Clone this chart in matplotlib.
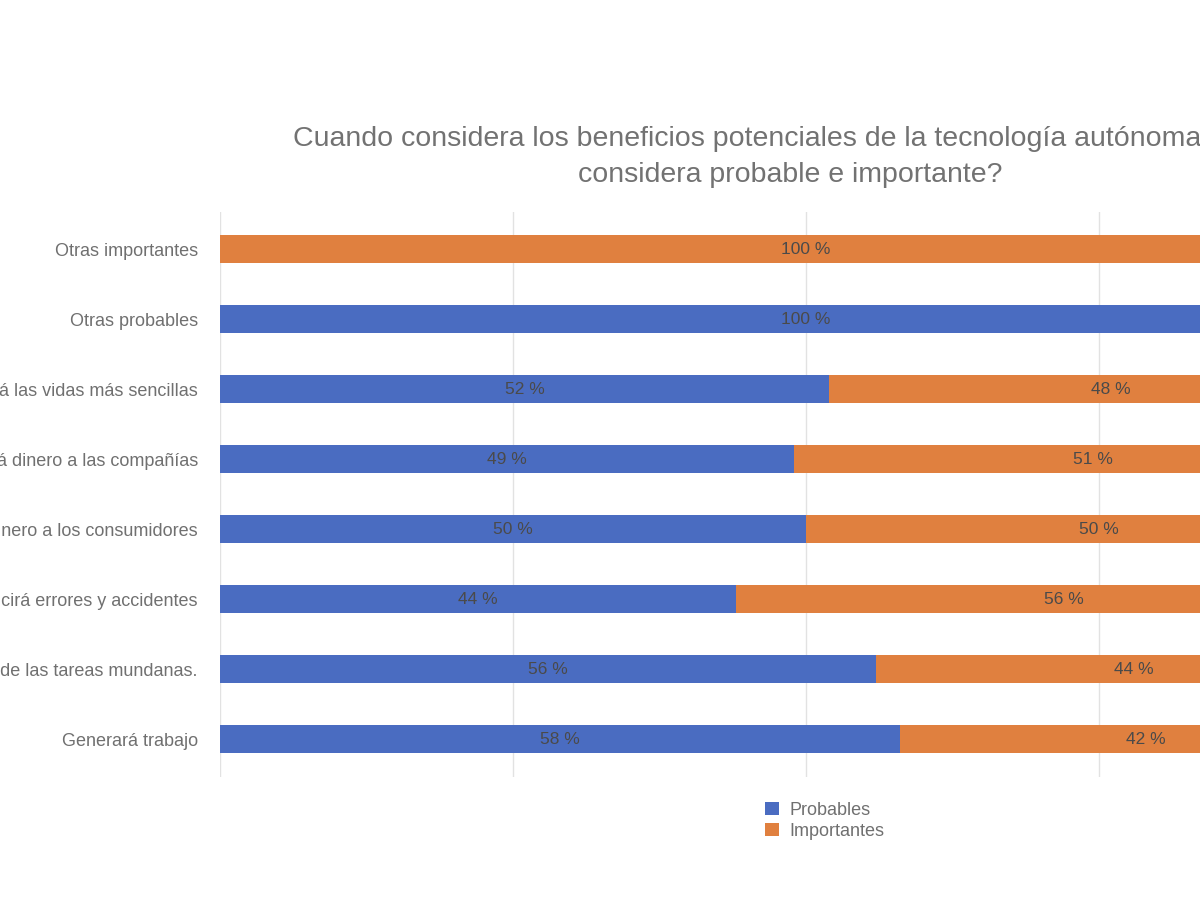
import numpy as np
import matplotlib.pyplot as plt

plt.rcParams['font.family'] = ['Liberation Sans', 'DejaVu Sans']

categorias = [
    "Otras importantes",
    "Otras probables",
    "Hará las vidas más sencillas",
    "Ahorrará dinero a las compañías",
    "Ahorrará dinero a los consumidores",
    "Reducirá errores y accidentes",
    "Liberará de las tareas mundanas.",
    "Generará trabajo",
]
probables = [0, 100, 52, 49, 50, 44, 56, 58]
importantes = [100, 0, 48, 51, 50, 56, 44, 42]

titulo = ("Cuando considera los beneficios potenciales de la tecnología autónoma, ¿cuál\n"
          "considera probable e importante?")

azul = "#4a6cc1"
naranja = "#e0803f"
gris = "#707070"

fig = plt.figure(figsize=(12, 9), dpi=100)
# the original chart is cropped on the right, so the axes runs past the figure edge
ax = fig.add_axes([220 / 1200, 1 - 777 / 900, 1172 / 1200, 565 / 900])

y = np.arange(len(categorias))
p = np.array(probables) / 100
imp = np.array(importantes) / 100

b1 = ax.barh(y, p, height=0.4, color=azul, label="Probables", zorder=2)
b2 = ax.barh(y, imp, left=p, height=0.4, color=naranja, label="Importantes", zorder=2)

for bars, vals in ((b1, probables), (b2, importantes)):
    for rect, v in zip(bars, vals):
        if v == 0:
            continue
        ax.text(rect.get_x() + rect.get_width() / 2, rect.get_y() + rect.get_height() / 2,
                f"{v} %", ha="center", va="center", fontsize=12.5, color="#4a4a4a", zorder=3)

ax.set_xlim(0, 1)
ax.set_ylim(7.54, -0.53)
ax.set_xticks([0, 0.25, 0.5, 0.75, 1])
ax.set_xticklabels([])
ax.grid(axis="x", color="#e2e2e2", linewidth=1, zorder=0)
ax.set_yticks(y)
ax.set_yticklabels(categorias, fontsize=13, color=gris)
ax.tick_params(axis="both", length=0, pad=16)
for s in ax.spines.values():
    s.set_visible(False)

fig.text(790 / 1200, 1 - 157 / 900, titulo, ha="center", va="center",
         fontsize=20.5, color="#727272", linespacing=1.5)

fig.legend(handles=[b1, b2], loc="upper left", bbox_to_anchor=(756 / 1200, 1 - 793 / 900),
           frameon=False, fontsize=13, labelcolor=gris, handlelength=0.75, handleheight=0.75,
           handletextpad=0.6, labelspacing=0.2, borderpad=0)

fig.savefig("out.png", dpi=100)
